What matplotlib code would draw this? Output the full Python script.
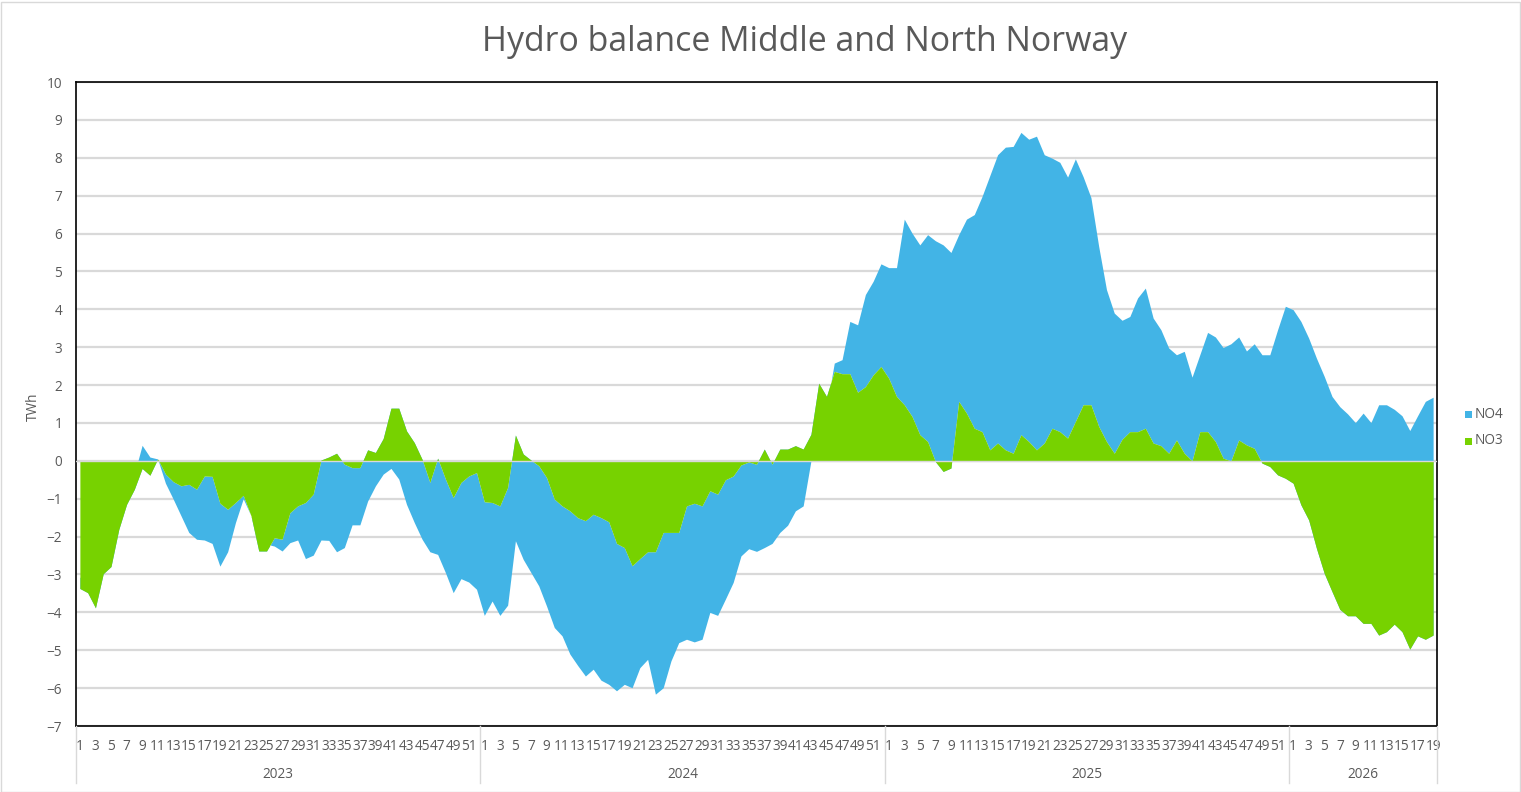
import numpy as np
import matplotlib
matplotlib.use("Agg")
import matplotlib.pyplot as plt
import matplotlib.transforms as mtransforms
from matplotlib.patches import Rectangle
from matplotlib.lines import Line2D

plt.rcParams['font.family'] = ['Open Sans', 'DejaVu Sans']

# ---------------- data (TWh, weekly) ----------------
years = ['2023', '2024', '2025', '2026']
weeks_in_year = [52, 52, 52, 19]

no3_2023 = [-3.37, -3.48, -3.88, -2.98, -2.79, -1.81, -1.15, -0.75, -0.20, -0.38,
            0.05, -0.35, -0.55, -0.66, -0.62, -0.75, -0.40, -0.41, -1.12, -1.28,
            -1.10, -0.91, -1.45, -2.38, -2.38, -2.03, -2.07, -1.37, -1.19, -1.10,
            -0.88, 0.02, 0.10, 0.20, -0.09, -0.18, -0.18, 0.29, 0.22, 0.59,
            1.39, 1.39, 0.79, 0.48, 0.04, -0.57, 0.07, -0.48, -0.97, -0.57,
            -0.40, -0.31]
no4_2023 = [0.30, 0.30, 0.30, 0.30, 0.30, 0.30, 0.30, 0.40, 0.61, 0.48,
            0.00, -0.24, -0.46, -0.79, -1.27, -1.32, -1.69, -1.77, -1.66, -1.12,
            -0.53, -0.09, 0.00, 0.38, 0.18, -0.22, -0.31, -0.79, -0.90, -1.48,
            -1.61, -2.11, -2.20, -2.60, -2.20, -1.51, -1.51, -1.35, -0.88, -0.94,
            -1.59, -1.87, -1.94, -2.11, -2.11, -1.83, -2.54, -2.47, -2.51, -2.54,
            -2.80, -3.08]

no3_2024 = [-1.08, -1.10, -1.19, -0.70, 0.68, 0.18, 0.02, -0.13, -0.44, -1.01,
            -1.19, -1.32, -1.50, -1.58, -1.41, -1.50, -1.61, -2.18, -2.29, -2.77,
            -2.58, -2.40, -2.40, -1.89, -1.89, -1.89, -1.19, -1.12, -1.19, -0.79,
            -0.88, -0.50, -0.40, -0.11, -0.03, -0.09, 0.31, -0.09, 0.31, 0.31,
            0.40, 0.31, 0.70, 2.05, 1.70, 2.36, 2.30, 2.30, 1.81, 1.96,
            2.27, 2.49]
no4_2024 = [-3.00, -2.60, -2.89, -3.11, -2.79, -2.78, -2.97, -3.17, -3.39, -3.39,
            -3.43, -3.78, -3.90, -4.10, -4.09, -4.29, -4.29, -3.89, -3.61, -3.22,
            -2.88, -2.84, -3.76, -4.10, -3.39, -2.91, -3.52, -3.66, -3.52, -3.21,
            -3.20, -3.15, -2.81, -2.40, -2.29, -2.30, -2.60, -2.09, -2.20, -2.01,
            -1.72, -1.50, -0.70, -1.35, -0.30, 0.22, 0.37, 1.38, 1.78, 2.43,
            2.47, 2.71]

no3_2025 = [2.18, 1.70, 1.48, 1.17, 0.69, 0.51, -0.02, -0.28, -0.19, 1.57,
            1.26, 0.86, 0.77, 0.29, 0.47, 0.29, 0.20, 0.69, 0.51, 0.29,
            0.47, 0.86, 0.77, 0.60, 1.04, 1.48, 1.48, 0.91, 0.51, 0.20,
            0.57, 0.77, 0.77, 0.86, 0.47, 0.40, 0.20, 0.55, 0.20, 0.00,
            0.77, 0.77, 0.51, 0.07, 0.00, 0.55, 0.42, 0.33, -0.06, -0.15,
            -0.37, -0.46]
no4_2025 = [2.92, 3.40, 4.90, 4.84, 5.01, 5.46, 5.83, 5.98, 5.69, 4.40,
            5.12, 5.64, 6.21, 7.24, 7.61, 7.99, 8.10, 7.98, 7.98, 8.28,
            7.61, 7.13, 7.11, 6.89, 6.93, 6.02, 5.47, 4.75, 4.01, 3.70,
            3.14, 3.04, 3.53, 3.70, 3.30, 3.06, 2.78, 2.25, 2.69, 2.21,
            2.03, 2.62, 2.76, 2.92, 3.09, 2.72, 2.48, 2.76, 2.86, 2.95,
            3.83, 4.54]

no3_2026 = [-0.59, -1.16, -1.56, -2.31, -2.97, -3.45, -3.92, -4.09, -4.09, -4.29,
            -4.29, -4.60, -4.51, -4.31, -4.51, -4.97, -4.62, -4.71, -4.60]
no4_2026 = [4.58, 4.84, 4.80, 5.02, 5.20, 5.15, 5.35, 5.33, 5.10, 5.55,
            5.30, 6.08, 5.99, 5.67, 5.70, 5.77, 5.81, 6.28, 6.28]

series_names = ['NO4', 'NO3']

# ---------------- build ----------------
no3 = np.array(no3_2023 + no3_2024 + no3_2025 + no3_2026)
no4 = np.array(no4_2023 + no4_2024 + no4_2025 + no4_2026)
stack_top = no3 + no4
x = np.arange(len(no3))

week_labels = []
for n in weeks_in_year:
    week_labels += list(range(1, n + 1))

BLUE = '#42b4e6'
GREEN = '#77d200'
GRID = '#d9d9d9'
TXT = '#595959'
FS = 9.8

W, H = 1521, 792
fig = plt.figure(figsize=(W / 100, H / 100), dpi=100)
ax = fig.add_axes([76 / W, 1 - 726 / H, 1361 / W, 644 / H])

ax.fill_between(x, no3, stack_top, color=BLUE, lw=0, zorder=2)
ax.fill_between(x, 0, no3, color=GREEN, lw=0, zorder=3)
ax.axhline(0, color=GRID, lw=1.0, zorder=4)

ax.set_xlim(-0.5, len(x) - 0.5)
ax.set_ylim(-7, 10)
ax.set_yticks(range(-7, 11))
ax.yaxis.grid(True, color=GRID, lw=1.6)
ax.set_axisbelow(True)

pos = [i for i, w in enumerate(week_labels) if w % 2 == 1]
ax.set_xticks(pos)
ax.set_xticklabels([str(week_labels[i]) for i in pos])
ax.tick_params(axis='both', length=0, labelsize=FS, labelcolor=TXT)
ax.tick_params(axis='x', pad=9.5)
ax.tick_params(axis='y', pad=10)
for s in ax.spines.values():
    s.set_color('black')
    s.set_linewidth(1.2)

# year labels and separators
trans = mtransforms.blended_transform_factory(ax.transData, fig.transFigure)
start = 0
bounds = [start]
for y_lbl, n in zip(years, weeks_in_year):
    end = start + n
    ax.text((start + end - 1) / 2, 1 - 774 / H, y_lbl, transform=trans,
            ha='center', va='center', fontsize=FS, color=TXT)
    start = end
    bounds.append(end)
for b in bounds:
    fig.add_artist(Line2D([b - 0.5, b - 0.5], [1 - 726 / H, 1 - 783 / H],
                          transform=trans, color=GRID, lw=1.0, clip_on=False))

# title, y label
fig.text(805 / W, 1 - 42 / H, 'Hydro balance Middle and North Norway',
         ha='center', va='center', fontsize=24.4, color=TXT)
fig.text(33 / W, 1 - 407 / H, 'TWh', rotation=90, ha='center', va='center',
         fontsize=FS, color=TXT)

# legend
for k, (name, col) in enumerate(zip(series_names, [BLUE, GREEN])):
    yc = 414 + 27 * k
    fig.add_artist(Rectangle((1465 / W, 1 - (yc + 4) / H), 7 / W, 7 / H,
                             transform=fig.transFigure, color=col, lw=0))
    fig.text(1475 / W, 1 - yc / H, name, ha='left', va='center',
             fontsize=FS, color=TXT)

# outer chart border
fig.add_artist(Rectangle((0.5 / W, 0.5 / H), (W - 2) / W, (H - 2) / H,
                         transform=fig.transFigure, fill=False, ec=GRID, lw=1.0))

fig.savefig('out.png', dpi=100)
